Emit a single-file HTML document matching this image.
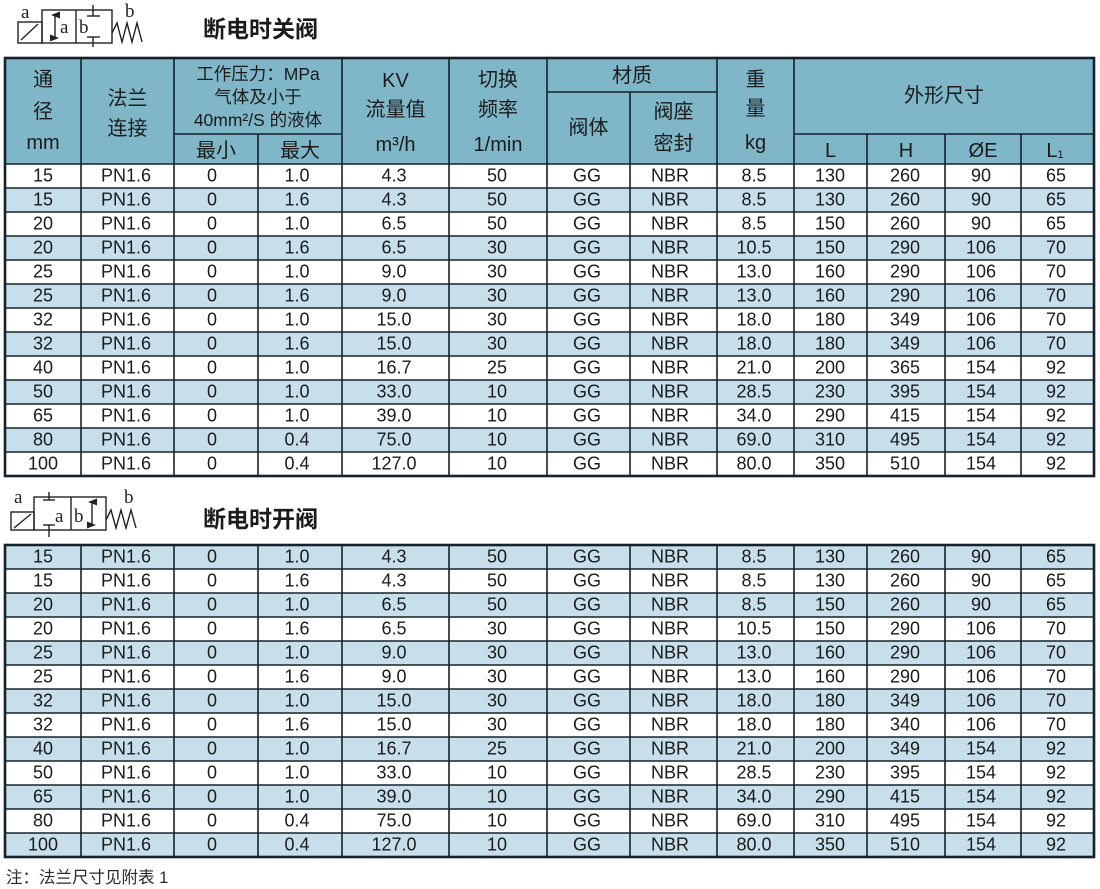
<!DOCTYPE html>
<html><head><meta charset="utf-8">
<style>
html,body{margin:0;padding:0;background:#fff;}
body{width:1100px;height:889px;overflow:hidden;}
svg{display:block;}
.d text{font-family:"Liberation Sans","Noto Sans CJK SC",sans-serif;font-size:18px;fill:#1b1b1b;text-anchor:middle;}
.h text{font-family:"Liberation Sans","Noto Sans CJK SC",sans-serif;font-size:20px;fill:#1b1b1b;text-anchor:middle;}
.h text.p{font-size:17.5px;}
.h text.l{font-size:20px;}
.ic line,.ic rect,.ic polyline{stroke:#222;stroke-width:1.4;fill:none;}
.ic text{font-family:"Liberation Serif",serif;font-size:19px;fill:#222;}
.t{font-family:"Liberation Sans","Noto Sans CJK SC",sans-serif;font-weight:700;font-size:23px;fill:#1b1b1b;}
.g line{stroke:#15222b;stroke-width:1.6;}
</style></head>
<body>
<svg width="1100" height="889" viewBox="0 0 1100 889" xmlns="http://www.w3.org/2000/svg">
<defs>
<marker id="ah" markerWidth="7" markerHeight="9" refX="3.5" refY="4" orient="auto-start-reverse" markerUnits="userSpaceOnUse">
<path d="M0,9 L3.5,0 L7,9 Z" fill="#222"/>
</marker>
</defs>

<!-- ICON 1 -->
<g class="ic">
<text x="21" y="18">a</text>
<rect x="18" y="22" width="24" height="21"/>
<line x1="21" y1="40" x2="38" y2="24"/>
<rect x="42" y="10" width="70" height="33"/>
<line x1="76" y1="10" x2="76" y2="43"/>
<line x1="55" y1="15" x2="55" y2="38" marker-start="url(#ah)" marker-end="url(#ah)"/>
<text x="60" y="33">a</text>
<text x="79" y="33">b</text>
<line x1="93" y1="5" x2="93" y2="16"/>
<line x1="87" y1="16" x2="100" y2="16"/>
<line x1="87" y1="37" x2="100" y2="37"/>
<line x1="93" y1="37" x2="93" y2="47"/>
<polyline points="112,33 117,23 122,42 127,23 132,42 137,23 142,42"/>
<text x="125" y="17">b</text>
</g>
<text class="t" x="203" y="37">断电时关阀</text>

<!-- TABLE 1 backgrounds -->
<rect x="5" y="58" width="1089" height="106" fill="#7fb7c9"/>
<rect x="5" y="164" width="1089" height="312" fill="#ffffff"/>
<g fill="#c6dfeb">
<rect x="5" y="188" width="1089" height="24"/>
<rect x="5" y="236" width="1089" height="24"/>
<rect x="5" y="284" width="1089" height="24"/>
<rect x="5" y="332" width="1089" height="24"/>
<rect x="5" y="380" width="1089" height="24"/>
<rect x="5" y="428" width="1089" height="24"/>
</g>

<!-- TABLE 1 grid -->
<g class="g">
<line x1="5" y1="164" x2="1094" y2="164"/>
<line x1="5" y1="188" x2="1094" y2="188"/>
<line x1="5" y1="212" x2="1094" y2="212"/>
<line x1="5" y1="236" x2="1094" y2="236"/>
<line x1="5" y1="260" x2="1094" y2="260"/>
<line x1="5" y1="284" x2="1094" y2="284"/>
<line x1="5" y1="308" x2="1094" y2="308"/>
<line x1="5" y1="332" x2="1094" y2="332"/>
<line x1="5" y1="356" x2="1094" y2="356"/>
<line x1="5" y1="380" x2="1094" y2="380"/>
<line x1="5" y1="404" x2="1094" y2="404"/>
<line x1="5" y1="428" x2="1094" y2="428"/>
<line x1="5" y1="452" x2="1094" y2="452"/>
<line x1="174" y1="134" x2="342" y2="134"/>
<line x1="547" y1="92" x2="717" y2="92"/>
<line x1="794" y1="134" x2="1094" y2="134"/>
<line x1="81" y1="58" x2="81" y2="476"/>
<line x1="174" y1="58" x2="174" y2="476"/>
<line x1="258" y1="134" x2="258" y2="476"/>
<line x1="342" y1="58" x2="342" y2="476"/>
<line x1="449" y1="58" x2="449" y2="476"/>
<line x1="547" y1="58" x2="547" y2="476"/>
<line x1="630" y1="92" x2="630" y2="476"/>
<line x1="717" y1="58" x2="717" y2="476"/>
<line x1="794" y1="58" x2="794" y2="476"/>
<line x1="867" y1="134" x2="867" y2="476"/>
<line x1="945" y1="134" x2="945" y2="476"/>
<line x1="1021" y1="134" x2="1021" y2="476"/>
</g>
<rect x="5" y="58" width="1089" height="418" fill="none" stroke="#15222b" stroke-width="2.6"/>

<!-- TABLE 1 header text -->
<g class="h">
<text x="43" y="86">通</text>
<text x="43" y="118">径</text>
<text class="l" x="43" y="149">mm</text>
<text x="127.5" y="105">法兰</text>
<text x="127.5" y="135">连接</text>
<text class="p" x="258" y="80">工作压力：MPa</text>
<text class="p" x="258" y="103">气体及小于</text>
<text class="p" x="258" y="126">40mm²/S 的液体</text>
<text x="216" y="157">最小</text>
<text x="300" y="157">最大</text>
<text class="l" x="395.5" y="87">KV</text>
<text x="395.5" y="116">流量值</text>
<text class="l" x="395.5" y="151">m³/h</text>
<text x="498" y="86">切换</text>
<text x="498" y="116">频率</text>
<text class="l" x="498" y="151">1/min</text>
<text x="632" y="82">材质</text>
<text x="588.5" y="134">阀体</text>
<text x="673.5" y="118">阀座</text>
<text x="673.5" y="150">密封</text>
<text x="755.5" y="86">重</text>
<text x="755.5" y="115">量</text>
<text class="l" x="755.5" y="149">kg</text>
<text x="944" y="102">外形尺寸</text>
<text class="l" x="830.5" y="157">L</text>
<text class="l" x="906" y="157">H</text>
<text class="l" x="983" y="157">ØE</text>
<text class="l" x="1055" y="157">L<tspan font-size="11" dy="1">1</tspan></text>
</g>

<!-- TABLE 1 data -->
<g class="d">
<g transform="translate(0,181.5)"><text x="43">15</text><text x="126">PN1.6</text><text x="212">0</text><text x="297">1.0</text><text x="394">4.3</text><text x="497">50</text><text x="587">GG</text><text x="670">NBR</text><text x="754">8.5</text><text x="830">130</text><text x="905">260</text><text x="981">90</text><text x="1056">65</text></g>
<g transform="translate(0,205.5)"><text x="43">15</text><text x="126">PN1.6</text><text x="212">0</text><text x="297">1.6</text><text x="394">4.3</text><text x="497">50</text><text x="587">GG</text><text x="670">NBR</text><text x="754">8.5</text><text x="830">130</text><text x="905">260</text><text x="981">90</text><text x="1056">65</text></g>
<g transform="translate(0,229.5)"><text x="43">20</text><text x="126">PN1.6</text><text x="212">0</text><text x="297">1.0</text><text x="394">6.5</text><text x="497">50</text><text x="587">GG</text><text x="670">NBR</text><text x="754">8.5</text><text x="830">150</text><text x="905">260</text><text x="981">90</text><text x="1056">65</text></g>
<g transform="translate(0,253.5)"><text x="43">20</text><text x="126">PN1.6</text><text x="212">0</text><text x="297">1.6</text><text x="394">6.5</text><text x="497">30</text><text x="587">GG</text><text x="670">NBR</text><text x="754">10.5</text><text x="830">150</text><text x="905">290</text><text x="981">106</text><text x="1056">70</text></g>
<g transform="translate(0,277.5)"><text x="43">25</text><text x="126">PN1.6</text><text x="212">0</text><text x="297">1.0</text><text x="394">9.0</text><text x="497">30</text><text x="587">GG</text><text x="670">NBR</text><text x="754">13.0</text><text x="830">160</text><text x="905">290</text><text x="981">106</text><text x="1056">70</text></g>
<g transform="translate(0,301.5)"><text x="43">25</text><text x="126">PN1.6</text><text x="212">0</text><text x="297">1.6</text><text x="394">9.0</text><text x="497">30</text><text x="587">GG</text><text x="670">NBR</text><text x="754">13.0</text><text x="830">160</text><text x="905">290</text><text x="981">106</text><text x="1056">70</text></g>
<g transform="translate(0,325.5)"><text x="43">32</text><text x="126">PN1.6</text><text x="212">0</text><text x="297">1.0</text><text x="394">15.0</text><text x="497">30</text><text x="587">GG</text><text x="670">NBR</text><text x="754">18.0</text><text x="830">180</text><text x="905">349</text><text x="981">106</text><text x="1056">70</text></g>
<g transform="translate(0,349.5)"><text x="43">32</text><text x="126">PN1.6</text><text x="212">0</text><text x="297">1.6</text><text x="394">15.0</text><text x="497">30</text><text x="587">GG</text><text x="670">NBR</text><text x="754">18.0</text><text x="830">180</text><text x="905">349</text><text x="981">106</text><text x="1056">70</text></g>
<g transform="translate(0,373.5)"><text x="43">40</text><text x="126">PN1.6</text><text x="212">0</text><text x="297">1.0</text><text x="394">16.7</text><text x="497">25</text><text x="587">GG</text><text x="670">NBR</text><text x="754">21.0</text><text x="830">200</text><text x="905">365</text><text x="981">154</text><text x="1056">92</text></g>
<g transform="translate(0,397.5)"><text x="43">50</text><text x="126">PN1.6</text><text x="212">0</text><text x="297">1.0</text><text x="394">33.0</text><text x="497">10</text><text x="587">GG</text><text x="670">NBR</text><text x="754">28.5</text><text x="830">230</text><text x="905">395</text><text x="981">154</text><text x="1056">92</text></g>
<g transform="translate(0,421.5)"><text x="43">65</text><text x="126">PN1.6</text><text x="212">0</text><text x="297">1.0</text><text x="394">39.0</text><text x="497">10</text><text x="587">GG</text><text x="670">NBR</text><text x="754">34.0</text><text x="830">290</text><text x="905">415</text><text x="981">154</text><text x="1056">92</text></g>
<g transform="translate(0,445.5)"><text x="43">80</text><text x="126">PN1.6</text><text x="212">0</text><text x="297">0.4</text><text x="394">75.0</text><text x="497">10</text><text x="587">GG</text><text x="670">NBR</text><text x="754">69.0</text><text x="830">310</text><text x="905">495</text><text x="981">154</text><text x="1056">92</text></g>
<g transform="translate(0,469.5)"><text x="43">100</text><text x="126">PN1.6</text><text x="212">0</text><text x="297">0.4</text><text x="394">127.0</text><text x="497">10</text><text x="587">GG</text><text x="670">NBR</text><text x="754">80.0</text><text x="830">350</text><text x="905">510</text><text x="981">154</text><text x="1056">92</text></g>
</g>

<!-- ICON 2 -->
<g class="ic">
<text x="14" y="503">a</text>
<rect x="11" y="512" width="23" height="18"/>
<line x1="14" y1="528" x2="31" y2="514"/>
<rect x="34" y="497" width="72" height="33"/>
<line x1="71" y1="497" x2="71" y2="530"/>
<line x1="49" y1="492" x2="49" y2="500"/>
<line x1="43" y1="500" x2="55" y2="500"/>
<line x1="43" y1="525" x2="55" y2="525"/>
<line x1="49" y1="525" x2="49" y2="537"/>
<text x="55" y="522">a</text>
<text x="74" y="522">b</text>
<line x1="92" y1="502" x2="92" y2="525" marker-start="url(#ah)" marker-end="url(#ah)"/>
<polyline points="106,520 111,510 116,528 121,510 126,528 131,510 136,528"/>
<text x="124" y="503">b</text>
</g>
<text class="t" x="203" y="527">断电时开阀</text>

<!-- TABLE 2 backgrounds -->
<rect x="5" y="545" width="1089" height="312" fill="#ffffff"/>
<g fill="#c6dfeb">
<rect x="5" y="545" width="1089" height="24"/>
<rect x="5" y="593" width="1089" height="24"/>
<rect x="5" y="641" width="1089" height="24"/>
<rect x="5" y="689" width="1089" height="24"/>
<rect x="5" y="737" width="1089" height="24"/>
<rect x="5" y="785" width="1089" height="24"/>
<rect x="5" y="833" width="1089" height="24"/>
</g>
<g class="g">
<line x1="5" y1="569" x2="1094" y2="569"/>
<line x1="5" y1="593" x2="1094" y2="593"/>
<line x1="5" y1="617" x2="1094" y2="617"/>
<line x1="5" y1="641" x2="1094" y2="641"/>
<line x1="5" y1="665" x2="1094" y2="665"/>
<line x1="5" y1="689" x2="1094" y2="689"/>
<line x1="5" y1="713" x2="1094" y2="713"/>
<line x1="5" y1="737" x2="1094" y2="737"/>
<line x1="5" y1="761" x2="1094" y2="761"/>
<line x1="5" y1="785" x2="1094" y2="785"/>
<line x1="5" y1="809" x2="1094" y2="809"/>
<line x1="5" y1="833" x2="1094" y2="833"/>
<line x1="81" y1="545" x2="81" y2="857"/>
<line x1="174" y1="545" x2="174" y2="857"/>
<line x1="258" y1="545" x2="258" y2="857"/>
<line x1="342" y1="545" x2="342" y2="857"/>
<line x1="449" y1="545" x2="449" y2="857"/>
<line x1="547" y1="545" x2="547" y2="857"/>
<line x1="630" y1="545" x2="630" y2="857"/>
<line x1="717" y1="545" x2="717" y2="857"/>
<line x1="794" y1="545" x2="794" y2="857"/>
<line x1="867" y1="545" x2="867" y2="857"/>
<line x1="945" y1="545" x2="945" y2="857"/>
<line x1="1021" y1="545" x2="1021" y2="857"/>
</g>
<rect x="5" y="545" width="1089" height="312" fill="none" stroke="#15222b" stroke-width="2.6"/>

<!-- TABLE 2 data -->
<g class="d">
<g transform="translate(0,562.5)"><text x="43">15</text><text x="126">PN1.6</text><text x="212">0</text><text x="297">1.0</text><text x="394">4.3</text><text x="497">50</text><text x="587">GG</text><text x="670">NBR</text><text x="754">8.5</text><text x="830">130</text><text x="905">260</text><text x="981">90</text><text x="1056">65</text></g>
<g transform="translate(0,586.5)"><text x="43">15</text><text x="126">PN1.6</text><text x="212">0</text><text x="297">1.6</text><text x="394">4.3</text><text x="497">50</text><text x="587">GG</text><text x="670">NBR</text><text x="754">8.5</text><text x="830">130</text><text x="905">260</text><text x="981">90</text><text x="1056">65</text></g>
<g transform="translate(0,610.5)"><text x="43">20</text><text x="126">PN1.6</text><text x="212">0</text><text x="297">1.0</text><text x="394">6.5</text><text x="497">50</text><text x="587">GG</text><text x="670">NBR</text><text x="754">8.5</text><text x="830">150</text><text x="905">260</text><text x="981">90</text><text x="1056">65</text></g>
<g transform="translate(0,634.5)"><text x="43">20</text><text x="126">PN1.6</text><text x="212">0</text><text x="297">1.6</text><text x="394">6.5</text><text x="497">30</text><text x="587">GG</text><text x="670">NBR</text><text x="754">10.5</text><text x="830">150</text><text x="905">290</text><text x="981">106</text><text x="1056">70</text></g>
<g transform="translate(0,658.5)"><text x="43">25</text><text x="126">PN1.6</text><text x="212">0</text><text x="297">1.0</text><text x="394">9.0</text><text x="497">30</text><text x="587">GG</text><text x="670">NBR</text><text x="754">13.0</text><text x="830">160</text><text x="905">290</text><text x="981">106</text><text x="1056">70</text></g>
<g transform="translate(0,682.5)"><text x="43">25</text><text x="126">PN1.6</text><text x="212">0</text><text x="297">1.6</text><text x="394">9.0</text><text x="497">30</text><text x="587">GG</text><text x="670">NBR</text><text x="754">13.0</text><text x="830">160</text><text x="905">290</text><text x="981">106</text><text x="1056">70</text></g>
<g transform="translate(0,706.5)"><text x="43">32</text><text x="126">PN1.6</text><text x="212">0</text><text x="297">1.0</text><text x="394">15.0</text><text x="497">30</text><text x="587">GG</text><text x="670">NBR</text><text x="754">18.0</text><text x="830">180</text><text x="905">349</text><text x="981">106</text><text x="1056">70</text></g>
<g transform="translate(0,730.5)"><text x="43">32</text><text x="126">PN1.6</text><text x="212">0</text><text x="297">1.6</text><text x="394">15.0</text><text x="497">30</text><text x="587">GG</text><text x="670">NBR</text><text x="754">18.0</text><text x="830">180</text><text x="905">340</text><text x="981">106</text><text x="1056">70</text></g>
<g transform="translate(0,754.5)"><text x="43">40</text><text x="126">PN1.6</text><text x="212">0</text><text x="297">1.0</text><text x="394">16.7</text><text x="497">25</text><text x="587">GG</text><text x="670">NBR</text><text x="754">21.0</text><text x="830">200</text><text x="905">349</text><text x="981">154</text><text x="1056">92</text></g>
<g transform="translate(0,778.5)"><text x="43">50</text><text x="126">PN1.6</text><text x="212">0</text><text x="297">1.0</text><text x="394">33.0</text><text x="497">10</text><text x="587">GG</text><text x="670">NBR</text><text x="754">28.5</text><text x="830">230</text><text x="905">395</text><text x="981">154</text><text x="1056">92</text></g>
<g transform="translate(0,802.5)"><text x="43">65</text><text x="126">PN1.6</text><text x="212">0</text><text x="297">1.0</text><text x="394">39.0</text><text x="497">10</text><text x="587">GG</text><text x="670">NBR</text><text x="754">34.0</text><text x="830">290</text><text x="905">415</text><text x="981">154</text><text x="1056">92</text></g>
<g transform="translate(0,826.5)"><text x="43">80</text><text x="126">PN1.6</text><text x="212">0</text><text x="297">0.4</text><text x="394">75.0</text><text x="497">10</text><text x="587">GG</text><text x="670">NBR</text><text x="754">69.0</text><text x="830">310</text><text x="905">495</text><text x="981">154</text><text x="1056">92</text></g>
<g transform="translate(0,850.5)"><text x="43">100</text><text x="126">PN1.6</text><text x="212">0</text><text x="297">0.4</text><text x="394">127.0</text><text x="497">10</text><text x="587">GG</text><text x="670">NBR</text><text x="754">80.0</text><text x="830">350</text><text x="905">510</text><text x="981">154</text><text x="1056">92</text></g>
</g>

<text x="6" y="883" font-family="Liberation Sans, Noto Sans CJK SC, sans-serif" font-size="16.5" fill="#2a2a2a">注：法兰尺寸见附表 1</text>
</svg>
</body></html>
